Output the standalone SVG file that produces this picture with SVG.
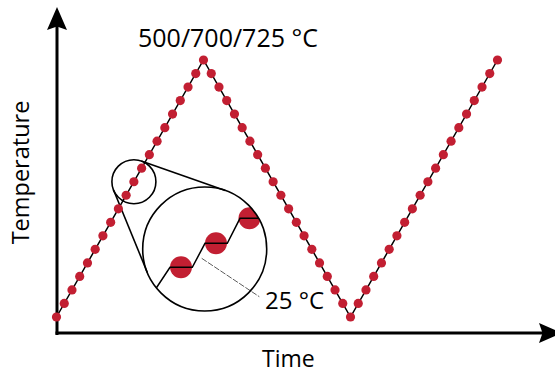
<svg xmlns="http://www.w3.org/2000/svg" xmlns:xlink="http://www.w3.org/1999/xlink" width="555" height="375" viewBox="0 0 555 375">
<style>
text{font-family:"Open Sans","Liberation Sans",sans-serif;fill:#000}
.axis{stroke:#000;stroke-width:3;fill:none}
.curve{stroke:#000;stroke-width:1.5;fill:none}
.lens{stroke:#000;stroke-width:1.6;fill:none}
.dot{fill:#C21F32}
.lead{stroke:#333;stroke-width:0.8;stroke-dasharray:6 1.5;fill:none}
</style>
<defs>
<circle id="d" r="4.6" class="dot"/>
<clipPath id="bigclip"><circle cx="204.7" cy="249" r="62"/></clipPath>
</defs>
<g id="axes">
<line class="axis" x1="57" y1="335" x2="57" y2="24"/>
<path d="M57,7 L67,30 L57,26.5 L47,30 Z" fill="#000"/>
<line class="axis" x1="55.5" y1="333" x2="545" y2="333"/>
<path d="M562,333 L539,343 L542.5,333 L539,323 Z" fill="#000"/>
</g>
<g id="labels">
<text x="138" y="47" font-size="25">500/700/725 °C</text>
<text x="262" y="367" font-size="23">Time</text>
<text x="265" y="309" font-size="24">25 °C</text>
<text transform="translate(28.5,172.5) rotate(-90)" text-anchor="middle" font-size="23.5">Temperature</text>
</g>
<g id="connectors">
<polyline class="curve" points="56.5,317 203.5,60 350.5,317 497.5,60"/>
<line class="lens" x1="141.2" y1="160.95" x2="225.27" y2="190.52"/>
<line class="lens" x1="113.54" y1="190.04" x2="147.33" y2="272.5"/>
<line class="lead" x1="201.7" y1="258.3" x2="259.3" y2="296.7"/>
</g>
<g id="dots">
<use xlink:href="#d" x="56.5" y="317"/><use xlink:href="#d" x="64.24" y="303.47"/><use xlink:href="#d" x="71.97" y="289.95"/><use xlink:href="#d" x="79.71" y="276.42"/><use xlink:href="#d" x="87.45" y="262.89"/><use xlink:href="#d" x="95.18" y="249.37"/><use xlink:href="#d" x="102.92" y="235.84"/><use xlink:href="#d" x="110.66" y="222.32"/><use xlink:href="#d" x="118.39" y="208.79"/><use xlink:href="#d" x="126.13" y="195.26"/><use xlink:href="#d" x="133.87" y="181.74"/><use xlink:href="#d" x="141.61" y="168.21"/><use xlink:href="#d" x="149.34" y="154.68"/><use xlink:href="#d" x="157.08" y="141.16"/><use xlink:href="#d" x="164.82" y="127.63"/><use xlink:href="#d" x="172.55" y="114.11"/><use xlink:href="#d" x="180.29" y="100.58"/><use xlink:href="#d" x="188.03" y="87.05"/><use xlink:href="#d" x="195.76" y="73.53"/><use xlink:href="#d" x="203.5" y="60"/>
<use xlink:href="#d" x="211.24" y="73.53"/><use xlink:href="#d" x="218.97" y="87.05"/><use xlink:href="#d" x="226.71" y="100.58"/><use xlink:href="#d" x="234.45" y="114.11"/><use xlink:href="#d" x="242.18" y="127.63"/><use xlink:href="#d" x="249.92" y="141.16"/><use xlink:href="#d" x="257.66" y="154.68"/><use xlink:href="#d" x="265.39" y="168.21"/><use xlink:href="#d" x="273.13" y="181.74"/><use xlink:href="#d" x="280.87" y="195.26"/><use xlink:href="#d" x="288.61" y="208.79"/><use xlink:href="#d" x="296.34" y="222.32"/><use xlink:href="#d" x="304.08" y="235.84"/><use xlink:href="#d" x="311.82" y="249.37"/><use xlink:href="#d" x="319.55" y="262.89"/><use xlink:href="#d" x="327.29" y="276.42"/><use xlink:href="#d" x="335.03" y="289.95"/><use xlink:href="#d" x="342.76" y="303.47"/><use xlink:href="#d" x="350.5" y="317"/>
<use xlink:href="#d" x="358.24" y="303.47"/><use xlink:href="#d" x="365.97" y="289.95"/><use xlink:href="#d" x="373.71" y="276.42"/><use xlink:href="#d" x="381.45" y="262.89"/><use xlink:href="#d" x="389.18" y="249.37"/><use xlink:href="#d" x="396.92" y="235.84"/><use xlink:href="#d" x="404.66" y="222.32"/><use xlink:href="#d" x="412.39" y="208.79"/><use xlink:href="#d" x="420.13" y="195.26"/><use xlink:href="#d" x="427.87" y="181.74"/><use xlink:href="#d" x="435.61" y="168.21"/><use xlink:href="#d" x="443.34" y="154.68"/><use xlink:href="#d" x="451.08" y="141.16"/><use xlink:href="#d" x="458.82" y="127.63"/><use xlink:href="#d" x="466.55" y="114.11"/><use xlink:href="#d" x="474.29" y="100.58"/><use xlink:href="#d" x="482.03" y="87.05"/><use xlink:href="#d" x="489.76" y="73.53"/><use xlink:href="#d" x="497.5" y="60"/>
</g>
<g id="small-lens">
<circle class="lens" cx="133.9" cy="181.7" r="22"/>
</g>
<g id="big-lens">
<g clip-path="url(#bigclip)">
<circle class="dot" cx="181" cy="267.3" r="11"/>
<circle class="dot" cx="216" cy="243.3" r="11"/>
<circle class="dot" cx="249.5" cy="218.3" r="11"/>
<polyline class="curve" points="148,300.5 170,267.3 192.3,267.3 205,243.3 227.3,243.3 240,218.3 270,218.3"/>
</g>
<circle class="lens" cx="204.7" cy="249" r="62"/>
</g>
</svg>
